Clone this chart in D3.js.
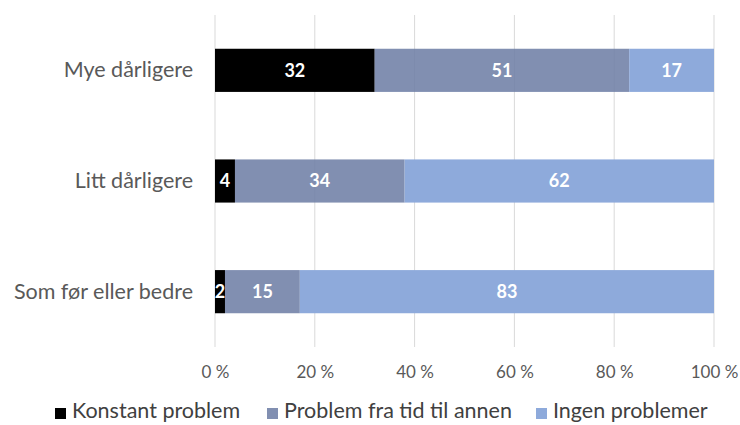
<!DOCTYPE html>
<html><head><meta charset="utf-8">
<script src="https://cdn.jsdelivr.net/npm/d3@7"></script>
<style>body{margin:0;background:#fff;} svg{display:block;}</style>
</head><body>
<svg id="chart" width="740" height="425"></svg>
<script>
const categories = ["Mye dårligere", "Litt dårligere", "Som før eller bedre"];
const seriesNames = ["Konstant problem", "Problem fra tid til annen", "Ingen problemer"];
const konstant = [32, 4, 2];
const tidTilAnnen = [51, 34, 15];
const ingen = [17, 62, 83];
const xTicks = [0, 20, 40, 60, 80, 100];
const colors = ["#000000", "#6f80a6", "#8eaadb"];
const opacities = [1, 0.88, 1];

const svg = d3.select("#chart");
const font = "Lato, 'Open Sans', sans-serif";
const pLeft = 215, pRight = 714, pTop = 15, pBottom = 347;

const x = d3.scaleLinear().domain([0, 100]).range([pLeft, pRight]);
const y = d3.scaleBand().domain(categories).range([pTop, pBottom]).paddingInner(0.61).paddingOuter(0.305);

const rows = categories.map((c, i) => ({cat: c, v: [konstant[i], tidTilAnnen[i], ingen[i]]}));
const stack = d3.stack().keys([0, 1, 2]).value((d, k) => d.v[k]);
const stacked = stack(rows);

// gridlines
svg.append("g").selectAll("line").data(xTicks).join("line")
  .attr("x1", d => x(d)).attr("x2", d => x(d))
  .attr("y1", pTop).attr("y2", pBottom)
  .attr("stroke", "#d9d9d9").attr("stroke-width", 1);

// bars
const layers = svg.append("g").selectAll("g").data(stacked).join("g")
  .attr("fill", (d, i) => colors[i]).attr("fill-opacity", (d, i) => opacities[i]);
layers.selectAll("rect").data(d => d).join("rect")
  .attr("x", d => x(d[0])).attr("width", d => x(d[1]) - x(d[0]))
  .attr("y", d => y(d.data.cat)).attr("height", y.bandwidth());

// labels
const lab = svg.append("g");
stacked.forEach((layer, i) => {
  layer.forEach(d => {
    lab.append("text")
      .attr("x", (x(d[0]) + x(d[1])) / 2)
      .attr("y", y(d.data.cat) + y.bandwidth() / 2)
      .attr("dy", "0.36em")
      .attr("text-anchor", "middle")
      .attr("font-family", font).attr("font-weight", "bold").attr("font-size", 18)
      .attr("fill", "#ffffff")
      .text(d[1] - d[0]);
  });
});

// category axis
const yAxis = svg.append("g").attr("transform", `translate(${pLeft},0)`)
  .call(d3.axisLeft(y).tickSize(0).tickPadding(22));
yAxis.select(".domain").remove();
yAxis.selectAll("text").attr("font-family", font).attr("font-size", 21.5).attr("fill", "#595959");

// x axis
const xAxis = svg.append("g").attr("transform", `translate(0,${pBottom})`)
  .call(d3.axisBottom(x).tickValues(xTicks).tickFormat(d => d + " %").tickSize(0).tickPadding(19));
xAxis.select(".domain").remove();
xAxis.selectAll("text").attr("font-family", font).attr("font-size", 17).attr("fill", "#595959");

// legend
const legendX = [55, 267, 536];
const lg = svg.append("g").selectAll("g").data(seriesNames).join("g")
  .attr("transform", (d, i) => `translate(${legendX[i]},418)`);
lg.append("rect").attr("x", 0).attr("y", -10).attr("width", 11).attr("height", 11)
  .attr("fill", (d, i) => colors[i]).attr("fill-opacity", (d, i) => opacities[i]);
lg.append("text").attr("x", 17)
  .attr("font-family", font).attr("font-size", 21.5).attr("fill", "#404040")
  .text(d => d);
</script>
</body></html>
